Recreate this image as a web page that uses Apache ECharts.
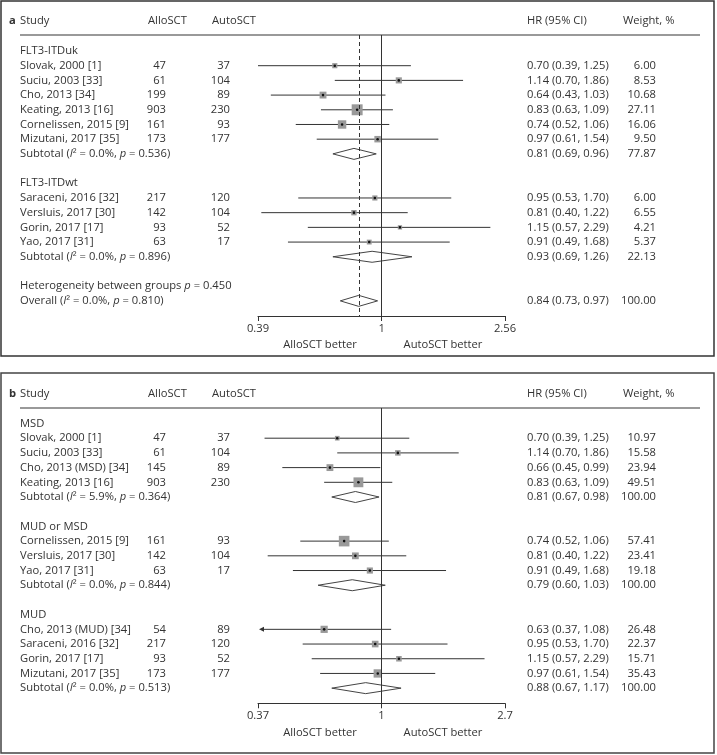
<!DOCTYPE html>
<html><head><meta charset="utf-8">
<script src="https://cdn.jsdelivr.net/npm/echarts@6/dist/echarts.min.js"></script>
<style>html,body{margin:0;padding:0;background:#fff}#c{width:717px;height:755px}</style>
</head><body><div id="c"></div>
<script>
// ---------- Panel a data ----------
const groupsA = ['FLT3-ITDuk', 'FLT3-ITDwt'];
const studiesA = ['Slovak, 2000 [1]', 'Suciu, 2003 [33]', 'Cho, 2013 [34]', 'Keating, 2013 [16]', 'Cornelissen, 2015 [9]', 'Mizutani, 2017 [35]', 'Saraceni, 2016 [32]', 'Versluis, 2017 [30]', 'Gorin, 2017 [17]', 'Yao, 2017 [31]'];
const studyGroupA = [0, 0, 0, 0, 0, 0, 1, 1, 1, 1];
const alloA = [47, 61, 199, 903, 161, 173, 217, 142, 93, 63];
const autoA = [37, 104, 89, 230, 93, 177, 120, 104, 52, 17];
const hrA = [0.70, 1.14, 0.64, 0.83, 0.74, 0.97, 0.95, 0.81, 1.15, 0.91];
const loA = [0.39, 0.70, 0.43, 0.63, 0.52, 0.61, 0.53, 0.40, 0.57, 0.49];
const hiA = [1.25, 1.86, 1.03, 1.09, 1.06, 1.54, 1.70, 1.22, 2.29, 1.68];
const wA = [6.00, 8.53, 10.68, 27.11, 16.06, 9.50, 6.00, 6.55, 4.21, 5.37];
const arrowA = [false, false, false, false, false, false, false, false, false, false];
const subI2A = ['0.0%', '0.0%'];
const subPA = ['0.536', '0.896'];
const subHrA = [0.81, 0.93];
const subLoA = [0.69, 0.69];
const subHiA = [0.96, 1.26];
const subWA = [77.87, 22.13];
const betweenPA = '0.450';
const overallI2A = '0.0%';
const overallPA = '0.810';
const overallHrA = 0.84;
const overallLoA = 0.73;
const overallHiA = 0.97;
const overallWA = 100.00;
const ticksA = [0.39, 1, 2.56];
const tickLabelsA = ['0.39', '1', '2.56'];

// ---------- Panel b data ----------
const groupsB = ['MSD', 'MUD or MSD', 'MUD'];
const studiesB = ['Slovak, 2000 [1]', 'Suciu, 2003 [33]', 'Cho, 2013 (MSD) [34]', 'Keating, 2013 [16]', 'Cornelissen, 2015 [9]', 'Versluis, 2017 [30]', 'Yao, 2017 [31]', 'Cho, 2013 (MUD) [34]', 'Saraceni, 2016 [32]', 'Gorin, 2017 [17]', 'Mizutani, 2017 [35]'];
const studyGroupB = [0, 0, 0, 0, 1, 1, 1, 2, 2, 2, 2];
const alloB = [47, 61, 145, 903, 161, 142, 63, 54, 217, 93, 173];
const autoB = [37, 104, 89, 230, 93, 104, 17, 89, 120, 52, 177];
const hrB = [0.70, 1.14, 0.66, 0.83, 0.74, 0.81, 0.91, 0.63, 0.95, 1.15, 0.97];
const loB = [0.39, 0.70, 0.45, 0.63, 0.52, 0.40, 0.49, 0.37, 0.53, 0.57, 0.61];
const hiB = [1.25, 1.86, 0.99, 1.09, 1.06, 1.22, 1.68, 1.08, 1.70, 2.29, 1.54];
const wB = [10.97, 15.58, 23.94, 49.51, 57.41, 23.41, 19.18, 26.48, 22.37, 15.71, 35.43];
const arrowB = [false, false, false, false, false, false, false, true, false, false, false];
const subI2B = ['5.9%', '0.0%', '0.0%'];
const subPB = ['0.364', '0.844', '0.513'];
const subHrB = [0.81, 0.79, 0.88];
const subLoB = [0.67, 0.60, 0.67];
const subHiB = [0.98, 1.03, 1.17];
const subWB = [100.00, 100.00, 100.00];
const ticksB = [0.37, 1, 2.7];
const tickLabelsB = ['0.37', '1', '2.7'];

// ---------- helpers ----------
const FF = 'Open Sans';
const FS = 11.2;
const TXT = '#333';
const COLS = { name: 20, allo: 166, auto: 230, hr: 527, w: 656 };

function buildRows(P) {
  const rows = []; let r = 0;
  P.groups.forEach((g, gi) => {
    rows.push({ kind: 'group', row: r++, gi });
    P.studyGroup.forEach((sg, i) => { if (sg === gi) rows.push({ kind: 'study', row: r++, i }); });
    rows.push({ kind: 'sub', row: r++, gi });
    r++;
  });
  if (P.overall) {
    rows.push({ kind: 'between', row: r++ });
    rows.push({ kind: 'overall', row: r++ });
  }
  return rows;
}
function txt(x, y, text, align, extra) {
  const st = Object.assign({ text: text, fill: TXT, fontSize: FS, fontFamily: FF, align: align, verticalAlign: 'middle', textAlign: align, textVerticalAlign: 'middle' }, extra || {});
  return { type: 'text', x: x, y: y, style: st, silent: true };
}
const RICH = { i: { fontStyle: 'italic', fontSize: FS, fontFamily: FF, fill: TXT } };
const f2 = v => v.toFixed(2);
const hrText = (h, l, u) => f2(h) + ' (' + f2(l) + ', ' + f2(u) + ')';

function panel(P, idx) {
  const rows = buildRows(P);
  const data = rows.map(o => [0, o.row]);
  const marks = {
    type: 'custom', xAxisIndex: idx, yAxisIndex: idx, clip: false, silent: true,
    encode: { x: 0, y: 1 }, data: data,
    renderItem: function (params, api) {
      const o = rows[params.dataIndex];
      const y = api.coord([0, o.row])[1];
      const X = v => api.coord([Math.log(v), o.row])[0];
      const ch = [];
      if (o.kind === 'study') {
        const i = o.i;
        let x0 = X(P.lo[i]);
        if (P.arrow[i]) {
          ch.push({ type: 'polygon', shape: { points: [[x0 + 1, y], [x0 + 6, y - 2.5], [x0 + 6, y + 2.5]] }, style: { fill: '#333' } });
          x0 = x0 + 5;
        }
        ch.push({ type: 'line', shape: { x1: x0, y1: y, x2: X(P.hi[i]), y2: y }, style: { stroke: '#333', lineWidth: 1 } });
        const s = P.k * Math.sqrt(P.w[i]);
        const cx = X(P.hr[i]);
        ch.push({ type: 'rect', shape: { x: cx - s / 2, y: y - s / 2, width: s, height: s }, style: { fill: '#999' } });
        ch.push({ type: 'circle', shape: { cx: cx, cy: y, r: 1.3 }, style: { fill: '#111' } });
      } else if (o.kind === 'sub' || o.kind === 'overall') {
        const h = o.kind === 'sub' ? P.subHr[o.gi] : P.overall.hr;
        const l = o.kind === 'sub' ? P.subLo[o.gi] : P.overall.lo;
        const u = o.kind === 'sub' ? P.subHi[o.gi] : P.overall.hi;
        ch.push({ type: 'polygon', shape: { points: [[X(l), y], [X(h), y - 5.5], [X(u), y], [X(h), y + 5.5]] }, style: { fill: '#fff', stroke: '#444', lineWidth: 1 } });
      }
      return { type: 'group', children: ch };
    },
    markLine: {
      silent: true, symbol: 'none', animation: false, label: { show: false },
      data: [{ xAxis: 0, lineStyle: { color: '#333', width: 1, type: 'solid' } }].concat(
        P.overall ? [{ xAxis: Math.log(P.overall.hr), lineStyle: { color: '#333', width: 1, type: [4, 3] } }] : [])
    },
    z: 3
  };
  const texts = {
    type: 'custom', xAxisIndex: idx, yAxisIndex: idx, clip: false, silent: true,
    encode: { x: 0, y: 1 }, data: data,
    renderItem: function (params, api) {
      const o = rows[params.dataIndex];
      const y = api.coord([0, o.row])[1];
      const ch = [];
      if (o.kind === 'group') {
        ch.push(txt(COLS.name, y, P.groups[o.gi], 'left'));
      } else if (o.kind === 'study') {
        const i = o.i;
        ch.push(txt(COLS.name, y, P.studies[i], 'left'));
        ch.push(txt(COLS.allo, y, String(P.allo[i]), 'right'));
        ch.push(txt(COLS.auto, y, String(P.auto[i]), 'right'));
        ch.push(txt(COLS.hr, y, hrText(P.hr[i], P.lo[i], P.hi[i]), 'left'));
        ch.push(txt(COLS.w, y, f2(P.w[i]), 'right'));
      } else if (o.kind === 'sub') {
        const g = o.gi;
        ch.push(txt(COLS.name, y, 'Subtotal ({i|I}\u00b2 = ' + P.subI2[g] + ', {i|p} = ' + P.subP[g] + ')', 'left', { rich: RICH }));
        ch.push(txt(COLS.hr, y, hrText(P.subHr[g], P.subLo[g], P.subHi[g]), 'left'));
        ch.push(txt(COLS.w, y, f2(P.subW[g]), 'right'));
      } else if (o.kind === 'between') {
        ch.push(txt(COLS.name, y, 'Heterogeneity between groups {i|p} = ' + P.overall.between, 'left', { rich: RICH }));
      } else if (o.kind === 'overall') {
        ch.push(txt(COLS.name, y, 'Overall ({i|I}\u00b2 = ' + P.overall.i2 + ', {i|p} = ' + P.overall.p + ')', 'left', { rich: RICH }));
        ch.push(txt(COLS.hr, y, hrText(P.overall.hr, P.overall.lo, P.overall.hi), 'left'));
        ch.push(txt(COLS.w, y, f2(P.overall.w), 'right'));
      }
      return { type: 'group', children: ch };
    },
    z: 4
  };
  const lt = P.ticks.map(Math.log);
  const xAxis = {
    type: 'value', gridIndex: idx, min: lt[0], max: lt[lt.length - 1],
    axisLine: { show: true, onZero: false, lineStyle: { color: '#333', width: 1 } },
    axisTick: { show: true, customValues: lt, length: 5, lineStyle: { color: '#333', width: 1 } },
    axisLabel: {
      show: true, customValues: lt, margin: 7, color: TXT, fontSize: FS, fontFamily: FF,
      showMinLabel: true, showMaxLabel: true, hideOverlap: false,
      formatter: v => { const j = lt.findIndex(t => Math.abs(t - v) < 1e-6); return j >= 0 ? P.tickLabels[j] : ''; }
    },
    splitLine: { show: false }
  };
  const yAxis = { type: 'value', gridIndex: idx, inverse: true, min: P.yMin, max: P.yMax, show: false };
  return { series: [marks, texts], xAxis, yAxis };
}

const PA = {
  groups: groupsA, studies: studiesA, studyGroup: studyGroupA, allo: alloA, auto: autoA,
  hr: hrA, lo: loA, hi: hiA, w: wA, arrow: arrowA,
  subI2: subI2A, subP: subPA, subHr: subHrA, subLo: subLoA, subHi: subHiA, subW: subWA,
  overall: { between: betweenPA, i2: overallI2A, p: overallPA, hr: overallHrA, lo: overallLoA, hi: overallHiA, w: overallWA },
  ticks: ticksA, tickLabels: tickLabelsA, k: 2.1, yMin: -1.088, yMax: 18.03
};
const PB = {
  groups: groupsB, studies: studiesB, studyGroup: studyGroupB, allo: alloB, auto: autoB,
  hr: hrB, lo: loB, hi: hiB, w: wB, arrow: arrowB,
  subI2: subI2B, subP: subPB, subHr: subHrB, subLo: subLoB, subHi: subHiB, subW: subWB,
  overall: null,
  ticks: ticksB, tickLabels: tickLabelsB, k: 1.4, yMin: -1.054, yMax: 19.03
};
const pa = panel(PA, 0);
const pb = panel(PB, 1);

function gtext(x, y, text, align, extra) {
  return { type: 'text', x: x, y: y, silent: true, z: 10,
    style: Object.assign({ text: text, fill: TXT, fontSize: FS, fontFamily: FF, align: align, verticalAlign: 'middle', textAlign: align, textVerticalAlign: 'middle' }, extra || {}) };
}
function header(y, letter) {
  return [
    gtext(9, y, letter, 'left', { fontWeight: 'bold' }),
    gtext(20, y, 'Study', 'left'),
    gtext(148, y, 'AlloSCT', 'left'),
    gtext(212, y, 'AutoSCT', 'left'),
    gtext(527, y, 'HR (95% CI)', 'left'),
    gtext(623, y, 'Weight, %', 'left')
  ];
}
const graphics = [
  { type: 'rect', shape: { x: 1, y: 1, width: 713, height: 355 }, style: { fill: 'none', stroke: '#333', lineWidth: 1.5 }, silent: true },
  { type: 'rect', shape: { x: 1, y: 373, width: 713, height: 380 }, style: { fill: 'none', stroke: '#444', lineWidth: 1.5 }, silent: true },
  { type: 'line', shape: { x1: 20, y1: 35, x2: 700, y2: 35 }, style: { stroke: '#999', lineWidth: 2 }, silent: true },
  { type: 'line', shape: { x1: 20, y1: 408, x2: 700, y2: 408 }, style: { stroke: '#999', lineWidth: 2 }, silent: true },
  gtext(320, 345, 'AlloSCT better', 'center'),
  gtext(443, 345, 'AutoSCT better', 'center'),
  gtext(320, 733, 'AlloSCT better', 'center'),
  gtext(443, 733, 'AutoSCT better', 'center')
].concat(header(21, 'a')).concat(header(394, 'b'));

const chart = echarts.init(document.getElementById('c'), null, { renderer: 'canvas' });
chart.setOption({
  animation: false,
  backgroundColor: '#fff',
  textStyle: { fontFamily: FF },
  grid: [
    { left: 258, width: 247, top: 35, height: 281, outerBoundsMode: 'none', containLabel: false },
    { left: 258, width: 247, top: 408, height: 295.3, outerBoundsMode: 'none', containLabel: false }
  ],
  xAxis: [pa.xAxis, pb.xAxis],
  yAxis: [pa.yAxis, pb.yAxis],
  series: pa.series.concat(pb.series),
  graphic: graphics
});
</script></body></html>
